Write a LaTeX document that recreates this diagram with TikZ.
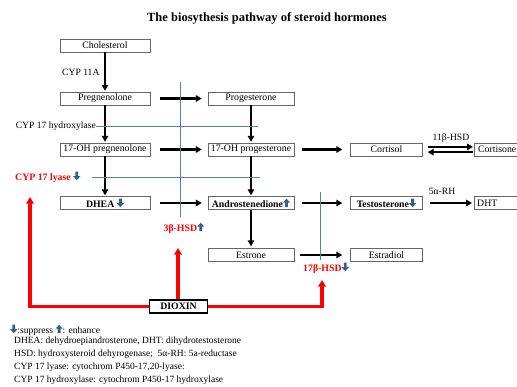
\documentclass[tikz,border=0pt]{standalone}
\usepackage{fontspec}
\setmainfont{Liberation Serif}
\usetikzlibrary{arrows.meta}

\definecolor{dioxred}{RGB}{255,0,0}
\definecolor{lineblue}{RGB}{79,129,189}
\definecolor{iconblue}{RGB}{54,95,145}

% small block arrows: suppress / enhance
\newcommand{\dnarr}{\tikz[baseline=0pt,x=1pt,y=1pt]\fill[iconblue] (-1.4,8.5) -- (1.4,8.5) -- (1.4,4) -- (3.6,4) -- (0,0) -- (-3.6,4) -- (-1.4,4) -- cycle;}
\newcommand{\uparr}{\tikz[baseline=0pt,x=1pt,y=1pt]\fill[iconblue] (-1.4,0) -- (1.4,0) -- (1.4,4.5) -- (3.6,4.5) -- (0,8.5) -- (-3.6,4.5) -- (-1.4,4.5) -- cycle;}

\begin{document}
\begin{tikzpicture}[x=1pt,y=-1pt,
  box/.style={draw=black!60, minimum width=90pt, minimum height=13pt, inner sep=0pt, font=\fontsize{9.8}{10}\selectfont},
  flow/.style={draw, line width=2.2pt, -{Triangle[length=6pt,width=6.5pt]}},
  inhib/.style={draw=lineblue, line width=0.9pt},
  dioxarr/.style={draw=dioxred, line width=3.2pt, -{Triangle[length=6.5pt,width=7.5pt]}},
  enz/.style={font=\fontsize{9.6}{10}\selectfont, inner sep=0pt},
  redenz/.style={font=\fontsize{9.8}{10}\selectfont\bfseries, text=dioxred, inner sep=0pt}]
\useasboundingbox (0,0) rectangle (517,386);

\node[font=\fontsize{12.5}{13}\selectfont\bfseries] (title) at (267,18) {The biosythesis pathway of steroid hormones};

% steroid boxes
\node[box] (chol) at (105,45.5) {Cholesterol};
\node[box] (preg) at (105,98.5) {Pregnenolone};
\node[box,minimum width=86pt] (prog) at (251,98.5) {Progesterone};
\node[box] (ohpreg) at (105,149.5) {17-OH pregnenolone};
\node[box,minimum width=86pt] (ohprog) at (251,149.5) {17-OH progesterone};
\node[box,minimum width=72pt] (cortisol) at (386.5,149.5) {Cortisol};
\node[box,minimum width=46pt,anchor=west] (cortisone) at (474,149.5) {Cortisone};
\node[box,font=\fontsize{9.8}{10}\selectfont\bfseries] (dhea) at (105,203) {DHEA \dnarr};
\node[box,minimum width=86pt,font=\fontsize{9.8}{10}\selectfont\bfseries] (andro) at (251,203) {Androstenedione\uparr};
\node[box,minimum width=72pt,font=\fontsize{9.8}{10}\selectfont\bfseries] (testo) at (386.5,203) {Testosterone\dnarr};
\node[box,minimum width=46pt,text width=40pt,align=left,anchor=west] (dht) at (474,203) {DHT};
\node[box,minimum width=86pt] (estrone) at (251,255) {Estrone};
\node[box,minimum width=72pt] (estradiol) at (386.5,255) {Estradiol};
\node[draw,line width=1.5pt,minimum width=58pt,minimum height=13pt,inner sep=0pt,font=\fontsize{9.8}{10}\selectfont\bfseries] (dioxin) at (178.5,306.5) {DIOXIN};

% pathway arrows
\path[flow,shorten >=1pt] (chol) -- (preg);
\path[flow,shorten >=1pt] (preg) -- (ohpreg);
\path[flow,shorten >=1pt] (ohpreg) -- (dhea);
\path[flow,shorten >=1pt] (prog) -- (ohprog);
\path[flow,shorten >=1pt] (ohprog) -- (andro);
\path[flow,shorten >=2pt] (andro) -- (estrone);
\path[flow,shorten <=10pt,shorten >=6pt] (preg) -- (prog);
\path[flow,shorten <=10pt,shorten >=6pt] (ohpreg) -- (ohprog);
\path[flow,shorten <=10pt,shorten >=6pt] (dhea) -- (andro);
\path[flow,shorten <=8pt,shorten >=8pt] (ohprog) -- (cortisol);
\path[flow,shorten <=8pt,shorten >=8pt] (andro) -- (testo);
\path[flow,shorten <=6pt,shorten >=8pt] (estrone) -- (estradiol);
\path[flow,shorten <=7pt,shorten >=2pt] (testo) -- (dht);
\path[flow,line width=1.6pt,shorten <=5pt,shorten >=1pt] ([shift={(0,-2.6)}]cortisol.east) -- ([shift={(0,-2.6)}]cortisone.west);
\path[flow,line width=1.6pt,shorten <=1pt,shorten >=5pt] ([shift={(0,2.6)}]cortisone.west) -- ([shift={(0,2.6)}]cortisol.east);

% enzymes
\node[enz,anchor=west] (cyp11a) at (62,72) {CYP 11A};
\node[enz] (hsd11) at (451,138) {11β-HSD};
\node[enz] (ra5) at (442,191) {5α-RH};
\node[enz,anchor=east] (hydrox) at (96,126) {CYP 17 hydroxylase};
\node[redenz,anchor=west] (lyase) at (15,177) {CYP 17 lyase \dnarr};
\node[redenz] (hsd3) at (184,228) {3β-HSD\uparr};
\node[redenz] (hsd17) at (326,268) {17β-HSD\dnarr};

% blocked steps
\coordinate (hydR) at (258,126);
\coordinate (lyaseL) at (92,177);
\coordinate (lyaseR) at (260,177);
\coordinate (hsd3T) at (180,82);
\coordinate (hsd3B) at (180,217);
\coordinate (hsd17T) at (320,192);
\coordinate (hsd17B) at (320,260);
\path[inhib] (hydrox.east) -- (hydR);
\path[inhib] (lyaseL) -- (lyaseR);
\path[inhib] (hsd3T) -- (hsd3B);
\path[inhib] (hsd17T) -- (hsd17B);

% dioxin effects
\coordinate (lyaseTip) at (30,197);
\coordinate (hsd3Tip) at (178,248);
\coordinate (hsd17Tip) at (322,280);
\path[dioxarr] (dioxin.west) -| (lyaseTip);
\path[dioxarr] (dioxin.north -| hsd3Tip) -- (hsd3Tip);
\path[dioxarr] (dioxin.east) -| (hsd17Tip);

% legend
\node[enz,anchor=west] (key) at (10,330) {\dnarr:suppress \uparr: enhance};
\node[enz,anchor=north west,align=left,font=\fontsize{9.5}{13}\selectfont] (abbr) at (14,337) {DHEA: dehydroepiandrosterone, DHT: dihydrotestosterone\\
HSD: hydroxysteroid dehyrogenase;\ \ 5α-RH: 5a-reductase\\
CYP 17 lyase: cytochrom P450-17,20-lyase:\\
CYP 17 hydroxylase: cytochrom P450-17 hydroxylase};
\end{tikzpicture}
\end{document}
